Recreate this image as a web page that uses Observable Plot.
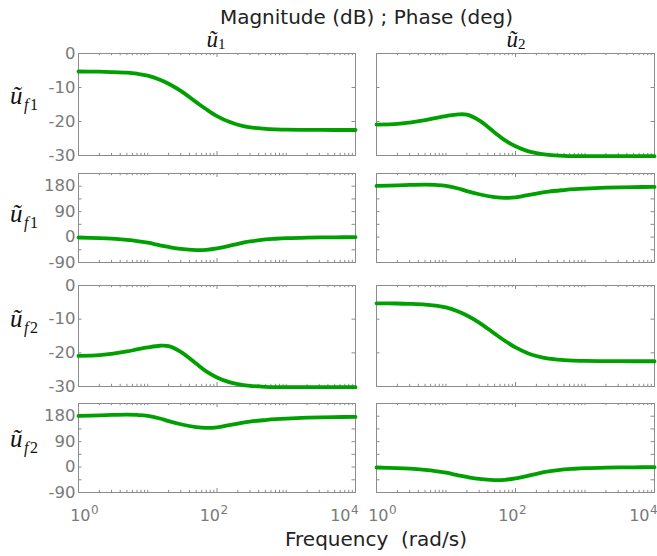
<!DOCTYPE html>
<html><head><meta charset="utf-8">
<script src="https://cdn.jsdelivr.net/npm/d3@7"></script>
<script src="https://cdn.jsdelivr.net/npm/@observablehq/plot@0.6"></script>
<style>
body{margin:0;background:#fff;}
#fig{position:relative;width:657px;height:556px;overflow:hidden;background:#fff;}
#fig > svg{position:absolute;}
</style></head><body><div id="fig"></div>
<script>
// ---- data ----
const freq = [1,2,3,5,7,10,15,20,30,50,70,100,150,200,300,500,700,1000,2000,5000,10000];
// magnitude (dB) and phase (deg) for each output/input pair
const magUf1U1 = [-5.3,-5.35,-5.45,-5.65,-5.95,-6.5,-7.7,-8.9,-11.0,-14.3,-16.4,-18.4,-20.1,-20.95,-21.75,-22.15,-22.3,-22.4,-22.45,-22.5,-22.5];
const phUf1U1  = [-1.5,-3.5,-5.5,-10,-14,-20,-29,-35,-42,-46,-45,-40,-31,-24,-15.5,-8.5,-6,-4,-2,-0.8,-0.4];
const magUf1U2 = [-20.9,-20.7,-20.3,-19.6,-19.0,-18.4,-17.9,-18.0,-19.7,-23.2,-25.5,-27.3,-28.7,-29.3,-29.8,-30.1,-30.2,-30.2,-30.2,-30.2,-30.2];
const phUf1U2  = [181,183,184.5,185.5,184.5,181.5,172,162.5,151.5,141.5,138.5,140.5,148.5,154,161,166.5,169.5,171.8,174.8,177,177.5];
const magUf2U1 = [-20.9,-20.7,-20.3,-19.6,-19.0,-18.4,-17.9,-18.0,-19.7,-23.2,-25.5,-27.3,-28.7,-29.3,-29.8,-30.1,-30.2,-30.2,-30.2,-30.2,-30.2];
const phUf2U1  = [181,183,184.5,185.5,184.5,181.5,172,162.5,151.5,141.5,138.5,140.5,148.5,154,161,166.5,169.5,171.8,174.8,177,177.5];
const magUf2U2 = [-5.3,-5.35,-5.45,-5.65,-5.95,-6.5,-7.7,-8.9,-11.0,-14.3,-16.4,-18.4,-20.1,-20.95,-21.75,-22.15,-22.3,-22.4,-22.45,-22.5,-22.5];
const phUf2U2  = [-1.5,-3.5,-5.5,-10,-14,-20,-29,-35,-42,-46,-45,-40,-31,-24,-15.5,-8.5,-6,-4,-2,-0.8,-0.4];

const magTicks = [0,-10,-20,-30];
const phaseTicks = [180,90,0,-90];
const phaseTickMarks = [-90,-45,0,45,90,135,180,225];
const xMajor = [1,100,10000];
const xBase = "10";
const xExponents = ["0","2","4"];
const columnInputs = ["1","2"];
const rowOutputs = ["f1","f1","f2","f2"];
const titleText = "Magnitude (dB) ; Phase (deg)";
const xLabelText = "Frequency  (rad/s)";

// ---- layout ----
const green = "#00a000", boxColor = "#8c8c8c", labelColor = "#7a7a7a";
const cols = [{left:78,w:277},{left:376,w:278}];
const rows = [{top:53,h:102},{top:173,h:89},{top:285,h:101},{top:403,h:89}];
const xMinor = [];
for (let e = 0; e < 4; e++) for (let m = 2; m <= 10; m++) { const v = m * 10 ** e; if (!xMajor.includes(v)) xMinor.push(v); }
const xLabelDx = [12, 3, -5];

const fig = document.getElementById("fig");

function panel(col, row, kind, vals) {
  const C = cols[col], R = rows[row];
  const ml = col === 0 ? 78 : 6, mr = 3, mt = 5, mb = row === 3 ? 40 : 5;
  const w = C.w, h = R.h;
  const data = freq.map((f, i) => ({f, v: vals[i]}));
  const yMarks = kind === "mag" ? magTicks : phaseTickMarks;
  const marks = [
    Plot.ruleX(xMinor, {x: d => d, insetBottom: h - 2.2, stroke: boxColor}),
    Plot.ruleX(xMinor, {x: d => d, insetTop: h - 2.2, stroke: boxColor}),
    Plot.ruleX(xMajor, {x: d => d, insetBottom: h - 4, stroke: boxColor}),
    Plot.ruleX(xMajor, {x: d => d, insetTop: h - 4, stroke: boxColor}),
    Plot.ruleY(yMarks, {y: d => d, insetRight: w - 3.5, stroke: boxColor}),
    Plot.ruleY(yMarks, {y: d => d, insetLeft: w - 3.5, stroke: boxColor}),
    Plot.frame({stroke: boxColor}),
    Plot.line(data, {x: "f", y: "v", stroke: green, strokeWidth: 3.8, curve: "catmull-rom"})
  ];
  if (col === 0) {
    marks.push(Plot.axisY(kind === "mag" ? magTicks : phaseTicks, {
      anchor: "left", tickSize: 0, tickPadding: 3, fontSize: 16.5, color: labelColor,
      label: null, tickFormat: d => String(d)
    }));
  }
  if (row === 3) {
    xMajor.forEach((t, i) => {
      marks.push(Plot.text([t], {x: d => d, text: () => xBase, frameAnchor: "bottom", dy: 28,
        dx: xLabelDx[i], textAnchor: "end", fontSize: 16, fill: labelColor}));
      marks.push(Plot.text([t], {x: d => d, text: () => xExponents[i], frameAnchor: "bottom", dy: 21.5,
        dx: xLabelDx[i] + 0.5, textAnchor: "start", fontSize: 12, fill: labelColor}));
    });
  }
  const svg = Plot.plot({
    width: ml + w + mr, height: mt + h + mb,
    marginLeft: ml, marginRight: mr, marginTop: mt, marginBottom: mb,
    x: {type: "log", domain: [1, 10000], axis: null},
    y: {domain: kind === "mag" ? [-30, 0] : [-90, 225], axis: null},
    style: {fontFamily: "DejaVu Sans", fontSize: "16.5px", background: "transparent", overflow: "visible", color: labelColor},
    marks
  });
  svg.style.left = (C.left - ml) + "px";
  svg.style.top = (R.top - mt) + "px";
  fig.appendChild(svg);
}

panel(0, 0, "mag", magUf1U1);
panel(1, 0, "mag", magUf1U2);
panel(0, 1, "phase", phUf1U1);
panel(1, 1, "phase", phUf1U2);
panel(0, 2, "mag", magUf2U1);
panel(1, 2, "mag", magUf2U2);
panel(0, 3, "phase", phUf2U1);
panel(1, 3, "phase", phUf2U2);

// ---- text overlay ----
const ov = d3.create("svg").attr("width", 657).attr("height", 556).style("left", "0px").style("top", "0px");
ov.append("text").attr("x", 366.5).attr("y", 23.5).attr("text-anchor", "middle")
  .attr("font-family", "DejaVu Sans").attr("font-size", 20).attr("fill", "#222").text(titleText);
ov.append("text").attr("x", 376).attr("y", 546).attr("text-anchor", "middle").style("white-space", "pre")
  .attr("font-family", "DejaVu Sans").attr("font-size", 20).attr("fill", "#222").text(xLabelText);
const colCenters = [216, 516];
columnInputs.forEach((s, i) => {
  const t = ov.append("text").attr("x", colCenters[i]).attr("y", 46.5).attr("text-anchor", "middle")
    .attr("font-family", "Liberation Serif").attr("fill", "#111");
  t.append("tspan").attr("font-style", "italic").attr("font-size", 23).text("ũ");
  t.append("tspan").attr("font-size", 15).attr("dy", 2.5).text(s);
});
const rowBaselines = [104, 222, 327, 447];
rowOutputs.forEach((s, i) => {
  const t = ov.append("text").attr("x", 10).attr("y", rowBaselines[i])
    .attr("font-family", "Liberation Serif").attr("fill", "#111");
  t.append("tspan").attr("font-style", "italic").attr("font-size", 25).text("ũ");
  t.append("tspan").attr("font-style", "italic").attr("font-size", 16).attr("dy", 6).attr("dx", 1.5).text(s[0]);
  t.append("tspan").attr("font-size", 16).attr("dx", 1.5).text(s.slice(1));
});
fig.appendChild(ov.node());
</script>
</body></html>
